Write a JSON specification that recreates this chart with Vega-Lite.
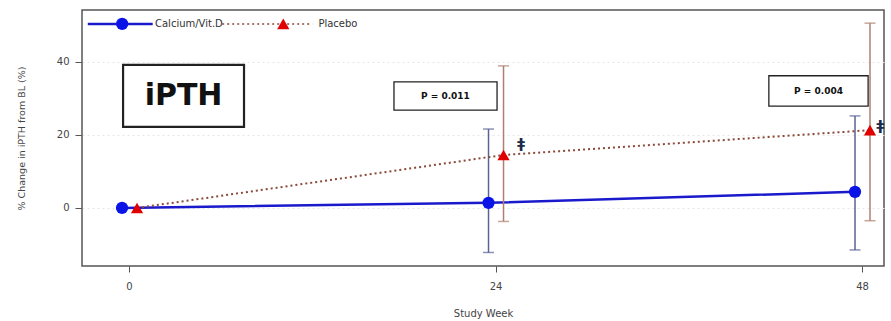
{
  "$schema": "https://vega.github.io/schema/vega-lite/v6.json",
  "width": 802,
  "height": 256,
  "autosize": {"type": "none"},
  "padding": {"left": 82, "top": 10, "right": 7, "bottom": 55},
  "background": "white",
  "config": {
    "view": {"stroke": "#555555", "strokeWidth": 1.5},
    "font": "DejaVu Sans",
    "axis": {"labelFont": "DejaVu Sans", "titleFont": "DejaVu Sans", "labelColor": "#444444", "titleColor": "#444444", "labelFontSize": 10, "titleFontSize": 10, "titleFontWeight": "normal", "tickColor": "#555555", "domain": false}
  },
  "datasets": {
    "series": [
      {"group": "Calcium/Vit.D", "week": 0, "mean": 0, "lo": null, "hi": null},
      {"group": "Calcium/Vit.D", "week": 24, "mean": 1.4, "lo": -12.2, "hi": 21.6},
      {"group": "Calcium/Vit.D", "week": 48, "mean": 4.4, "lo": -11.5, "hi": 25.2},
      {"group": "Placebo", "week": 0, "mean": 0, "lo": null, "hi": null},
      {"group": "Placebo", "week": 24, "mean": 14.5, "lo": -3.7, "hi": 38.9},
      {"group": "Placebo", "week": 48, "mean": 21.3, "lo": -3.5, "hi": 50.6}
    ],
    "boxes": [
      {"label": "iPTH", "x1": -0.39, "x2": 7.53, "y1": 22.2, "y2": 39.2, "xc": 3.57, "yc": 30.7},
      {"label": "P = 0.011", "x1": 17.35, "x2": 24.1, "y1": 26.8, "y2": 34.5, "xc": 20.72, "yc": 30.65},
      {"label": "P = 0.004", "x1": 41.9, "x2": 48.4, "y1": 27.9, "y2": 36.2, "xc": 45.15, "yc": 32.05}
    ],
    "marks": [
      {"sym": "ǂ", "week": 25.67, "val": 17.6},
      {"sym": "ǂ", "week": 49.2, "val": 22.4}
    ],
    "legline": [
      {"group": "Calcium/Vit.D", "lx": -2.7, "ly": 50.4},
      {"group": "Calcium/Vit.D", "lx": 1.55, "ly": 50.4},
      {"group": "Placebo", "lx": 6.1, "ly": 50.4},
      {"group": "Placebo", "lx": 12.0, "ly": 50.4}
    ],
    "legpt": [
      {"group": "Calcium/Vit.D", "lx": -0.45, "ly": 50.4, "tx": 1.7},
      {"group": "Placebo", "lx": 10.1, "ly": 50.4, "tx": 12.4}
    ]
  },
  "layer": [
    {
      "data": {"name": "series"},
      "transform": [{"filter": "datum.group === 'Calcium/Vit.D'"}],
      "layer": [
        {"mark": {"type": "rule", "xOffset": -7, "color": "#5a6396", "strokeWidth": 1.5},
         "encoding": {
           "x": {"field": "week", "type": "quantitative", "scale": {"domain": [-3.08, 49.44], "nice": false, "zero": false},
                 "axis": {"title": "Study Week", "values": [0, 24, 48], "grid": false, "tickSize": 6, "labelPadding": 9, "titlePadding": 17, "labelFontSize": 10}},
           "y": {"field": "lo", "type": "quantitative", "scale": {"domain": [-15.9, 54.2], "nice": false, "zero": false},
                 "axis": {"title": "% Change in iPTH from BL (%)", "values": [0, 20, 40], "grid": true, "gridColor": "#e6e6e6", "gridDash": [2, 3], "tickSize": 7, "labelPadding": 6, "titlePadding": 30, "titleFontSize": 9.5}},
           "y2": {"field": "hi"}}},
        {"mark": {"type": "tick", "orient": "horizontal", "xOffset": -7, "color": "#5a6396", "size": 11, "thickness": 1.5},
         "encoding": {"x": {"field": "week", "type": "quantitative"}, "y": {"field": "lo", "type": "quantitative"}}},
        {"mark": {"type": "tick", "orient": "horizontal", "xOffset": -7, "color": "#5a6396", "size": 11, "thickness": 1.5},
         "encoding": {"x": {"field": "week", "type": "quantitative"}, "y": {"field": "hi", "type": "quantitative"}}},
        {"mark": {"type": "line", "xOffset": -7, "color": "#1a1acc", "strokeWidth": 2.5},
         "encoding": {"x": {"field": "week", "type": "quantitative"}, "y": {"field": "mean", "type": "quantitative"}}},
        {"mark": {"type": "point", "xOffset": -7, "shape": "circle", "filled": true, "color": "#0a14e6", "size": 150, "opacity": 1},
         "encoding": {"x": {"field": "week", "type": "quantitative"}, "y": {"field": "mean", "type": "quantitative"}}}
      ]
    },
    {
      "data": {"name": "series"},
      "transform": [{"filter": "datum.group === 'Placebo'"}],
      "layer": [
        {"mark": {"type": "rule", "xOffset": 8, "color": "#b07f70", "strokeWidth": 1.5},
         "encoding": {"x": {"field": "week", "type": "quantitative"}, "y": {"field": "lo", "type": "quantitative"}, "y2": {"field": "hi"}}},
        {"mark": {"type": "tick", "orient": "horizontal", "xOffset": 8, "color": "#b07f70", "size": 11, "thickness": 1.5},
         "encoding": {"x": {"field": "week", "type": "quantitative"}, "y": {"field": "lo", "type": "quantitative"}}},
        {"mark": {"type": "tick", "orient": "horizontal", "xOffset": 8, "color": "#b07f70", "size": 11, "thickness": 1.5},
         "encoding": {"x": {"field": "week", "type": "quantitative"}, "y": {"field": "hi", "type": "quantitative"}}},
        {"mark": {"type": "line", "xOffset": 8, "color": "#8a4a3a", "strokeWidth": 2, "strokeDash": [2, 3]},
         "encoding": {"x": {"field": "week", "type": "quantitative"}, "y": {"field": "mean", "type": "quantitative"}}},
        {"mark": {"type": "point", "xOffset": 8, "shape": "triangle-up", "filled": true, "color": "#e00000", "size": 150, "opacity": 1},
         "encoding": {"x": {"field": "week", "type": "quantitative"}, "y": {"field": "mean", "type": "quantitative"}}}
      ]
    },
    {
      "data": {"name": "marks"},
      "mark": {"type": "text", "color": "#1a2a4a", "fontSize": 14, "fontWeight": "bold"},
      "encoding": {"x": {"field": "week", "type": "quantitative"}, "y": {"field": "val", "type": "quantitative"}, "text": {"field": "sym"}}
    },
    {
      "data": {"name": "boxes"},
      "layer": [
        {"mark": {"type": "rect", "fill": "white", "stroke": "#222222"},
         "encoding": {
           "x": {"field": "x1", "type": "quantitative"}, "x2": {"field": "x2"},
           "y": {"field": "y1", "type": "quantitative"}, "y2": {"field": "y2"},
           "strokeWidth": {"condition": {"test": "datum.label === 'iPTH'", "value": 2.2}, "value": 1.3}
         }},
        {"mark": {"type": "text", "color": "#111111", "fontWeight": "bold", "font": "DejaVu Sans"},
         "encoding": {
           "x": {"field": "xc", "type": "quantitative"}, "y": {"field": "yc", "type": "quantitative"},
           "text": {"field": "label"},
           "size": {"condition": {"test": "datum.label === 'iPTH'", "value": 30}, "value": 9}
         }}
      ]
    },
    {
      "data": {"name": "legline"},
      "mark": {"type": "line"},
      "encoding": {
        "x": {"field": "lx", "type": "quantitative"},
        "y": {"field": "ly", "type": "quantitative"},
        "detail": {"field": "group"},
        "color": {"field": "group", "type": "nominal", "scale": {"domain": ["Calcium/Vit.D", "Placebo"], "range": ["#1a1acc", "#8a4a3a"]}, "legend": null},
        "strokeDash": {"field": "group", "type": "nominal", "scale": {"domain": ["Calcium/Vit.D", "Placebo"], "range": [[1, 0], [2, 3]]}, "legend": null},
        "strokeWidth": {"field": "group", "type": "nominal", "scale": {"domain": ["Calcium/Vit.D", "Placebo"], "range": [2.5, 1.5]}, "legend": null}
      }
    },
    {
      "data": {"name": "legpt"},
      "layer": [
        {"mark": {"type": "point", "filled": true, "size": 150, "opacity": 1},
         "encoding": {
           "x": {"field": "lx", "type": "quantitative"},
           "y": {"field": "ly", "type": "quantitative"},
           "shape": {"field": "group", "type": "nominal", "scale": {"domain": ["Calcium/Vit.D", "Placebo"], "range": ["circle", "triangle-up"]}, "legend": null},
           "fill": {"field": "group", "type": "nominal", "scale": {"domain": ["Calcium/Vit.D", "Placebo"], "range": ["#0a14e6", "#e00000"]}, "legend": null}
         }},
        {"mark": {"type": "text", "align": "left", "fontSize": 10, "color": "#333333"},
         "encoding": {
           "x": {"field": "tx", "type": "quantitative"},
           "y": {"field": "ly", "type": "quantitative"},
           "text": {"field": "group"}
         }}
      ]
    }
  ],
  "resolve": {"scale": {"color": "independent"}}
}
